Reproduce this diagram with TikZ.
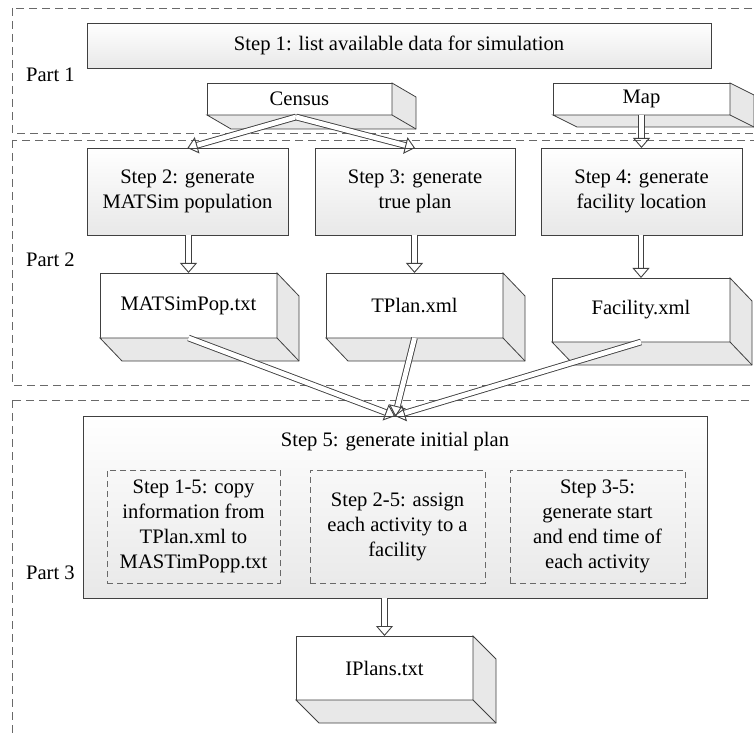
\documentclass[tikz,border=0pt]{standalone}
\usepackage{fontspec}
\setmainfont{Liberation Serif}
\usetikzlibrary{arrows.meta, calc}
\definecolor{linegray}{RGB}{64,64,64}
\definecolor{dashgray}{RGB}{105,105,105}
\definecolor{facegray}{RGB}{232,232,232}

\begin{document}
\begin{tikzpicture}[
  x=0.5pt, y=-0.5pt,
  font=\fontsize{10.3}{12.5}\selectfont,
  stepbox/.style={rectangle, draw=linegray, top color=white, bottom color=black!9,
                  inner sep=0pt, outer sep=0pt, align=center},
  databox/.style={rectangle, draw=linegray, fill=white,
                  inner sep=0pt, outer sep=0pt, align=center},
  subbox/.style={rectangle, draw=dashgray, dash pattern=on 3pt off 2pt,
                 inner sep=0pt, align=center},
  partbox/.style={draw=dashgray, dash pattern=on 4pt off 2.5pt},
  arr/.style={draw=linegray, line width=0.45pt, double=white, double distance=2.4pt,
              -{Triangle[open, length=5pt, width=8.5pt]}}
]
  \clip (0,0) rectangle (754,737);

  % Parts
  \draw[partbox] (12,8) rectangle (790,133);
  \draw[partbox] (12,140) rectangle (790,385);
  \draw[partbox] (12,400) rectangle (790,790);
  \node[anchor=west] (p1) at (19,75)  {Part 1};
  \node[anchor=west] (p2) at (19,260) {Part 2};
  \node[anchor=west] (p3) at (19,573) {Part 3};

  % Part 1
  \node[stepbox, minimum width=312pt, minimum height=22.5pt] (s1) at (399,45.5)
    {Step 1: list available data for simulation};
  \node[databox, minimum width=92.5pt, minimum height=16pt] (census) at (299.5,99) {Census};
  \node[databox, minimum width=88.5pt, minimum height=16pt] (map) at (641.5,99) {Map};

  % Part 2
  \node[stepbox, minimum width=100.5pt, minimum height=43.5pt] (s2) at (187.5,191.5)
    {Step 2: generate\\MATSim population};
  \node[stepbox, minimum width=100pt, minimum height=43.5pt] (s3) at (415,191.5)
    {Step 3: generate\\true plan};
  \node[stepbox, minimum width=100.5pt, minimum height=43.5pt] (s4) at (641.5,191.5)
    {Step 4: generate\\facility location};
  \node[databox, minimum width=88.5pt, minimum height=32.5pt] (mp) at (188.5,305.5) {MATSimPop.txt};
  \node[databox, minimum width=88.5pt, minimum height=32.5pt] (tp) at (414.5,305.5) {TPlan.xml};
  \node[databox, minimum width=89pt, minimum height=32pt] (fac) at (641,310) {Facility.xml};

  % Part 3
  \node[stepbox, minimum width=312pt, minimum height=91pt] (s5) at (395,507) {};
  \node (s5t) at (395,442) {Step 5: generate initial plan};
  \node[subbox, minimum width=86.5pt, minimum height=56.5pt] (sub1) at (193.5,526.5)
    {Step 1-5: copy\\information from\\TPlan.xml to\\MASTimPopp.txt};
  \node[subbox, minimum width=87.5pt, minimum height=56.5pt] (sub2) at (397.5,526.5)
    {Step 2-5: assign\\each activity to a\\facility};
  \node[subbox, minimum width=87.5pt, minimum height=56.5pt] (sub3) at (597.5,526.5)
    {Step 3-5:\\generate start\\and end time of\\each activity};
  \node[databox, minimum width=88.5pt, minimum height=32pt] (ip) at (384.5,668) {IPlans.txt};

  % depth of the boxes
  \foreach \n/\dx/\dy in {census/24/14, map/24/12, mp/22/23, tp/22/23, fac/22/23, ip/23/23} {
    \filldraw[fill=facegray, draw=linegray] (\n.north east) -- ++(\dx,\dy)
      -- ($(\n.south east)+(\dx,\dy)$) -- ($(\n.south west)+(\dx,\dy)$)
      -- (\n.south west) -- (\n.south east) -- cycle;
    \draw[linegray] (\n.south east) -- ++(\dx,\dy);
  }

  % Arrows
  \coordinate (csplit) at (296,117);
  \draw[arr] (csplit) -- (s2.north);
  \draw[arr] (csplit) -- (s3.north);
  \draw[arr] (map.south) -- (s4.north);
  \foreach \a/\b in {s2/mp, s3/tp, s4/fac, s5/ip}
    \draw[arr] (\b.north |- \a.south) -- (\b.north);
  \foreach \a in {mp, tp, fac}
    \draw[arr] (\a.south) -- (s5.north);
\end{tikzpicture}
\end{document}
